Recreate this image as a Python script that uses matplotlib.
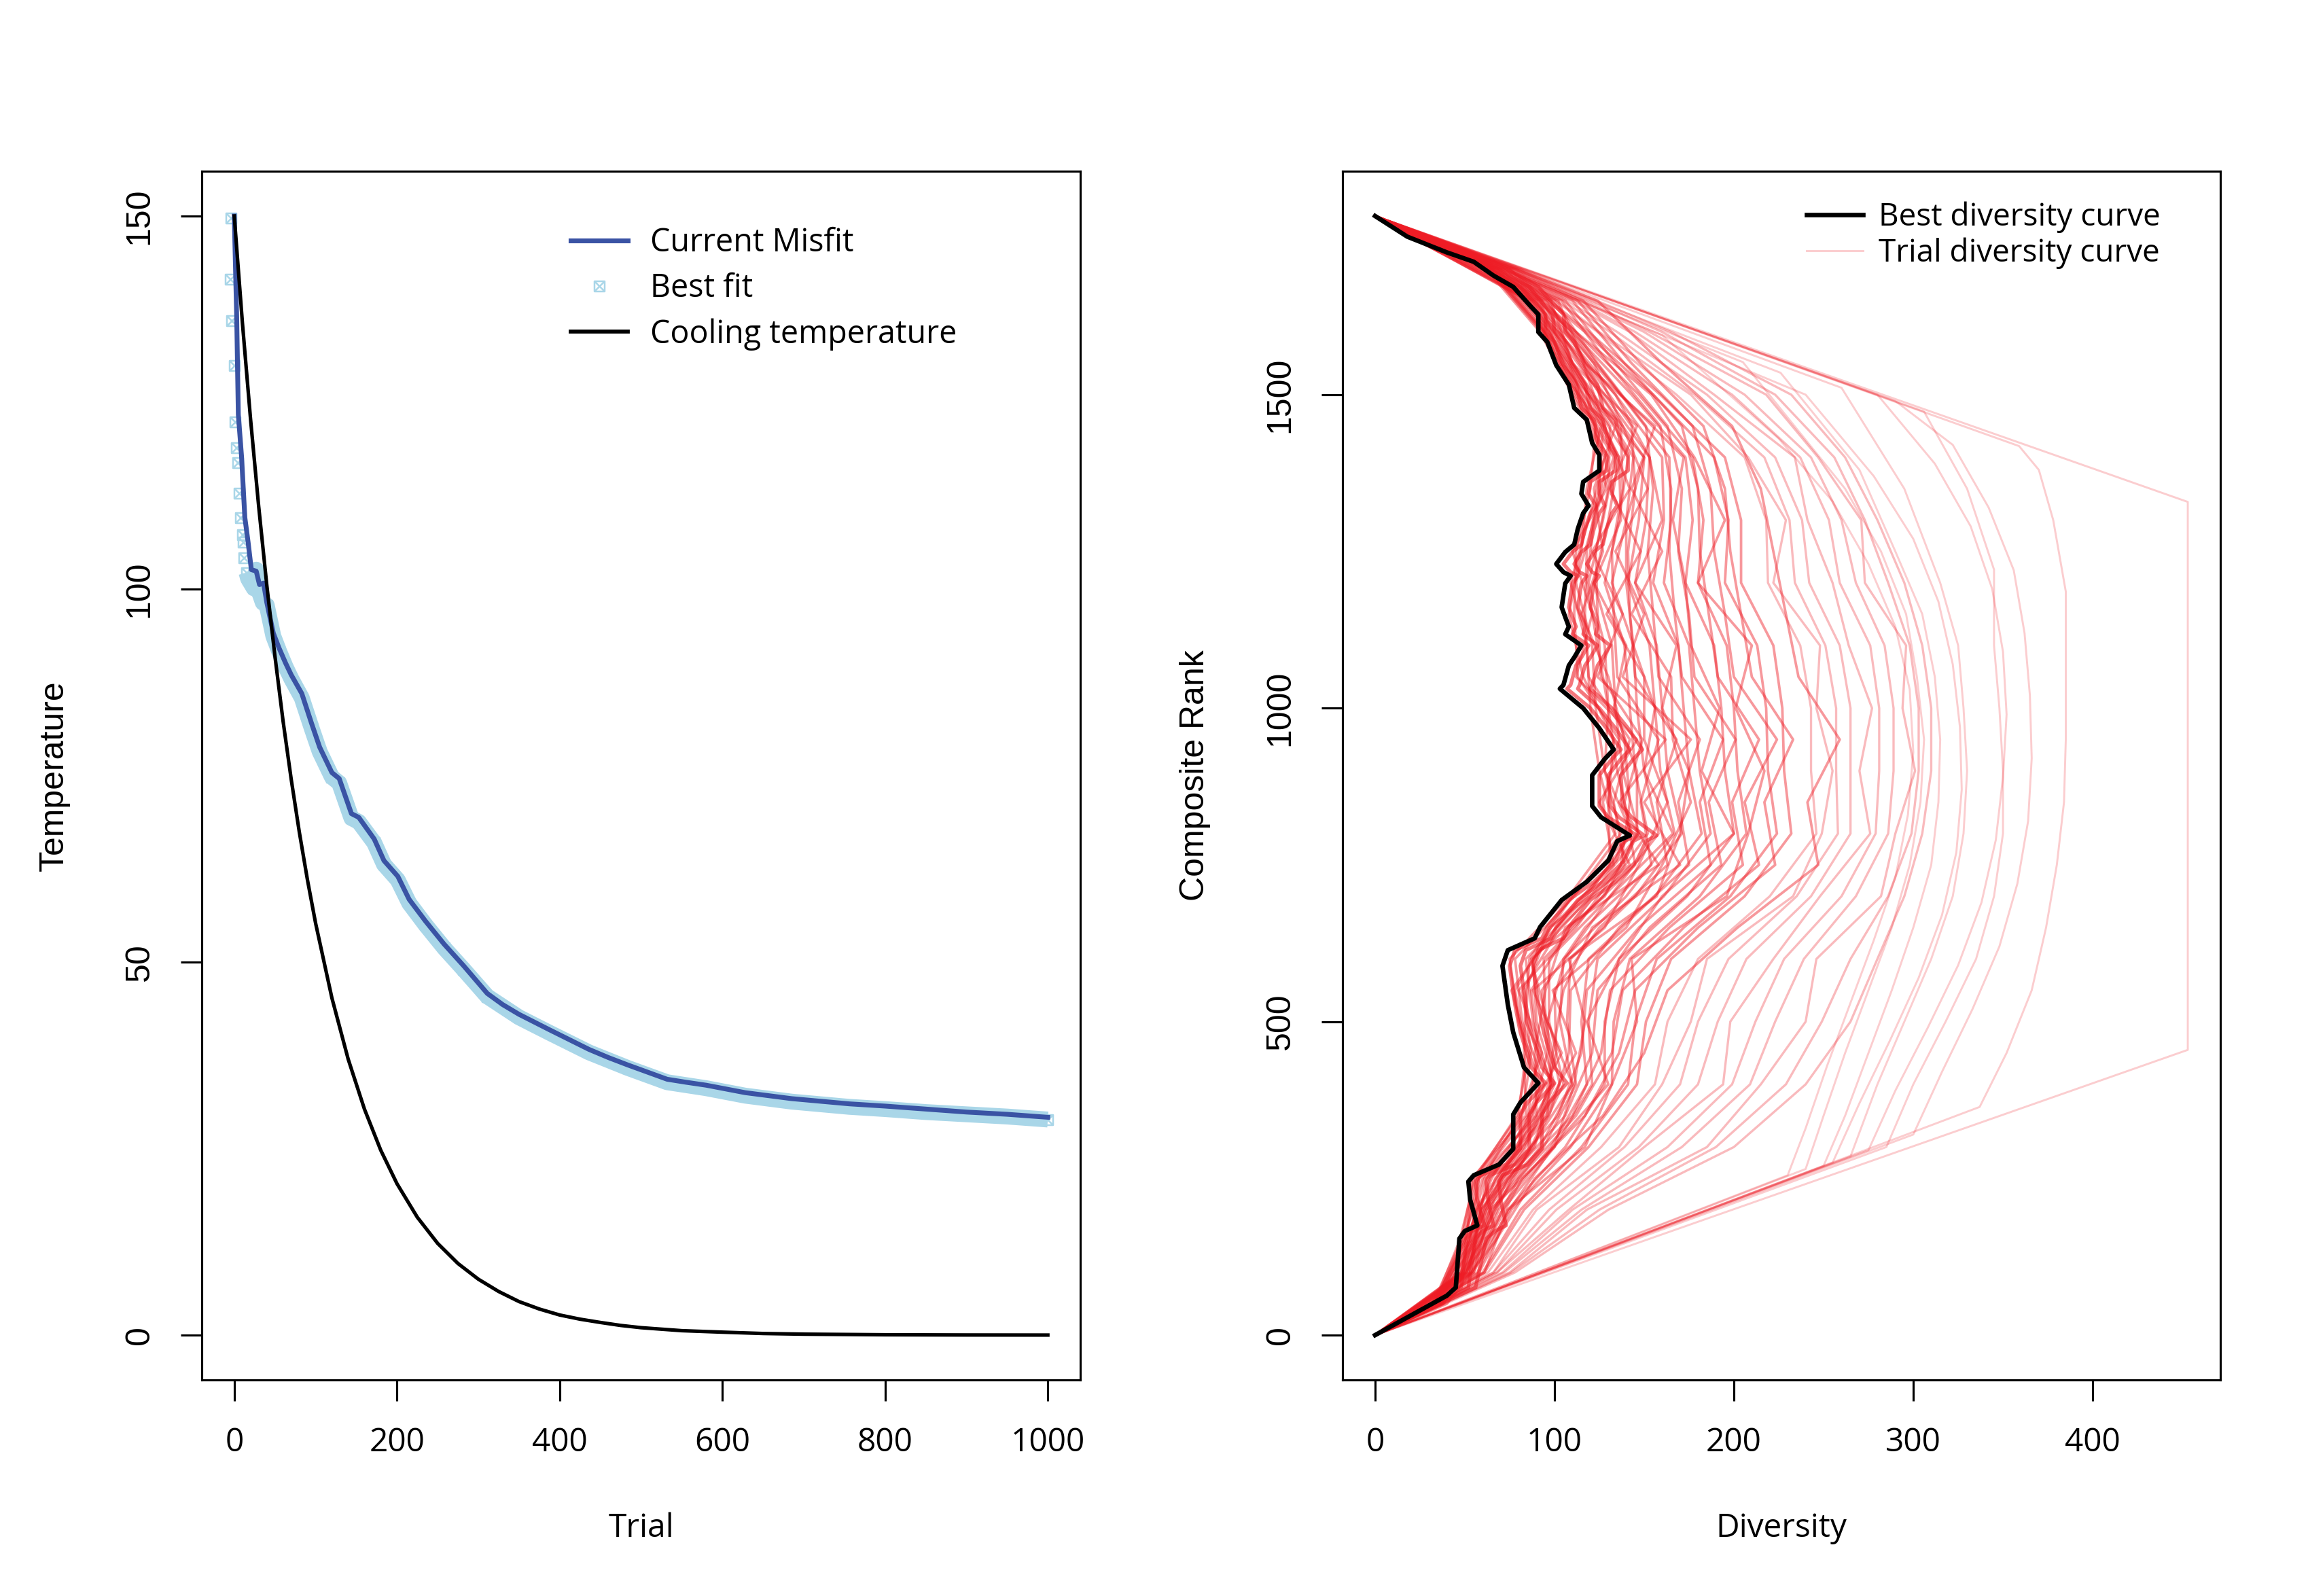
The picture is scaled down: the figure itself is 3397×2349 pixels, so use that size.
import numpy as np
import matplotlib.pyplot as plt
from matplotlib.path import Path
from matplotlib.lines import Line2D

# ---- left panel: annealing run ----
misfit_trial = [0, 3, 5, 9, 13, 17, 21, 27, 31, 36, 40, 48, 55, 63, 70, 83, 95, 105, 120, 129,
                144, 153, 172, 184, 201, 215, 235, 258, 282, 311, 330, 350, 388, 436, 460, 484,
                532, 555, 580, 628, 685, 756, 800, 850, 900, 950, 1000]
misfit_value = [150, 136.4, 123.4, 117.7, 109.6, 106.3, 102.6, 102.4, 100.6, 100.8, 98.2, 94.1,
                92.1, 90.1, 88.5, 86, 82, 78.8, 75.4, 74.6, 69.9, 69.4, 66.5, 63.6, 61.5, 58.4,
                55.5, 52.4, 49.5, 45.8, 44.3, 43, 40.9, 38.3, 37.2, 36.2, 34.3, 33.9, 33.5, 32.5,
                31.7, 31.0, 30.7, 30.3, 29.9, 29.6, 29.2]

bestfit_trial = [-4, -5, -3, 0, 1, 3, 4, 6, 8, 10, 11, 12, 15, 17, 24, 27, 30, 35, 40, 48, 55,
                 63, 70, 83, 95, 105, 120, 129, 144, 153, 172, 184, 201, 215, 235, 258, 282, 311,
                 350, 388, 436, 484, 532, 580, 628, 685, 756, 800, 850, 900, 950, 1000]
bestfit_value = [149.7, 141.5, 136, 130, 122.4, 118.9, 116.9, 112.8, 109.6, 107.3, 106.3, 104.2,
                 102.2, 101.4, 100.1, 102.6, 99.8, 98.2, 97.8, 93.7, 91.7, 89.6, 88.0, 85.4, 81.4,
                 78.2, 74.8, 74.0, 69.3, 68.8, 66.0, 63.1, 61.0, 57.9, 55.0, 51.9, 49.0, 45.4,
                 42.6, 40.5, 37.9, 35.8, 33.9, 33.1, 32.1, 31.3, 30.6, 30.3, 29.9, 29.6, 29.3, 28.9]

cool_trial = [0, 10, 20, 30, 40, 50, 60, 70, 80, 90, 100, 120, 140, 160, 180, 200, 225, 250,
              275, 300, 325, 350, 375, 400, 425, 450, 475, 500, 550, 600, 650, 700, 800, 900, 1000]
cool_temp = [150, 135.7, 122.8, 111.1, 100.5, 91.0, 82.3, 74.5, 67.4, 61.0, 55.2, 45.2, 37.0,
             30.3, 24.8, 20.3, 15.8, 12.3, 9.6, 7.5, 5.85, 4.5, 3.5, 2.7, 2.14, 1.7, 1.3, 1.0,
             0.6, 0.4, 0.22, 0.13, 0.05, 0.02, 0.01]

# ---- right panel: diversity curves ----
best_div = [0, 40, 45, 47, 50, 57, 53, 52, 55, 69, 77, 77, 81, 91, 83, 77, 74, 71, 74, 89, 92,
            104, 118, 130, 135, 142, 126, 121, 121, 128, 133, 125, 116, 103, 105, 108, 111, 115,
            106, 108, 104, 106, 109, 105, 101, 106, 111, 113, 116, 119, 115, 116, 125, 125, 121,
            118, 111, 108, 101, 96, 91, 91, 87, 77, 66, 55, 40, 18, 0]
best_rank = [0, 63, 76, 154, 166, 175, 216, 245, 255, 272, 297, 352, 371, 402, 427, 483, 527,
             589, 614, 633, 651, 694, 723, 757, 788, 797, 826, 844, 893, 919, 934, 968, 1000,
             1031, 1037, 1068, 1081, 1100, 1118, 1130, 1161, 1199, 1211, 1217, 1230, 1249, 1261,
             1286, 1311, 1323, 1342, 1361, 1379, 1404, 1423, 1460, 1479, 1516, 1547, 1584, 1600,
             1628, 1640, 1672, 1690, 1712, 1727, 1752, 1785]

# trial curves running just right of the best one, read at the same ranks
near_div = [
    [0, 42, 48, 51, 54, 61, 57, 56, 59, 73, 81, 81, 85, 95, 87, 81, 78, 75, 78, 93, 96, 108, 122,
     134, 139, 146, 130, 125, 125, 132, 137, 129, 120, 107, 109, 112, 115, 119, 110, 112, 108,
     110, 113, 109, 105, 110, 115, 117, 120, 123, 119, 120, 129, 129, 125, 122, 115, 112, 105,
     100, 95, 95, 91, 81, 70, 58, 43, 20, 0],
    [0, 44, 52, 56, 60, 66, 63, 62, 64, 78, 86, 86, 90, 100, 93, 87, 84, 81, 84, 98, 101, 113,
     127, 139, 144, 150, 136, 131, 130, 137, 142, 134, 125, 113, 114, 117, 120, 124, 116, 117,
     113, 115, 118, 114, 111, 115, 120, 122, 125, 128, 125, 125, 134, 134, 130, 127, 120, 117,
     110, 105, 100, 99, 95, 86, 75, 62, 46, 22, 0],
    [0, 46, 56, 62, 67, 73, 70, 69, 71, 85, 93, 93, 97, 107, 100, 94, 91, 88, 91, 105, 108, 120,
     134, 146, 151, 157, 143, 138, 137, 144, 149, 141, 132, 120, 121, 124, 127, 131, 123, 124,
     120, 122, 125, 121, 118, 122, 127, 129, 132, 135, 132, 132, 141, 141, 137, 134, 127, 124,
     117, 111, 106, 105, 101, 91, 80, 66, 49, 24, 0],
]

rank_levels = [0, 100, 200, 300, 400, 500, 600, 700, 800, 900, 1000, 1100, 1200, 1300, 1400,
               1500, 1600, 1700, 1785]
trial_div = [
    [0, 48, 56, 79, 92, 80, 75, 108, 134, 125, 120, 118, 109, 119, 128, 110, 92, 62, 0],
    [0, 48, 57, 80, 94, 82, 78, 111, 137, 128, 123, 121, 112, 122, 130, 111, 93, 63, 0],
    [0, 49, 60, 80, 99, 84, 86, 110, 143, 128, 130, 124, 118, 122, 133, 112, 94, 63, 0],
    [0, 49, 59, 83, 98, 88, 84, 118, 143, 135, 130, 128, 119, 127, 134, 114, 94, 64, 0],
    [0, 50, 61, 84, 100, 90, 88, 120, 147, 138, 134, 132, 122, 130, 136, 116, 95, 64, 0],
    [0, 52, 59, 89, 98, 96, 87, 128, 146, 146, 133, 140, 122, 137, 136, 119, 95, 65, 0],
    [0, 51, 62, 87, 103, 95, 94, 127, 152, 145, 142, 139, 128, 136, 141, 119, 97, 65, 0],
    [0, 51, 63, 88, 105, 97, 97, 131, 158, 150, 146, 144, 132, 140, 144, 122, 98, 66, 0],
    [0, 50, 67, 87, 110, 96, 106, 131, 166, 150, 156, 144, 140, 140, 150, 121, 100, 66, 0],
    [0, 52, 65, 92, 110, 103, 105, 140, 167, 159, 156, 153, 141, 147, 150, 126, 100, 67, 0],
    [0, 53, 66, 94, 112, 107, 109, 145, 171, 163, 160, 157, 145, 151, 153, 128, 102, 68, 0],
    [0, 55, 64, 100, 111, 117, 108, 157, 170, 175, 160, 168, 145, 160, 153, 134, 102, 68, 0],
    [0, 54, 69, 98, 118, 115, 119, 156, 182, 175, 172, 169, 155, 161, 160, 134, 105, 69, 0],
    [0, 55, 71, 100, 121, 119, 124, 161, 187, 181, 178, 175, 161, 165, 164, 137, 107, 70, 0],
    [0, 54, 75, 99, 130, 118, 136, 160, 200, 182, 192, 176, 173, 166, 172, 137, 110, 70, 0],
    [0, 57, 74, 106, 128, 128, 136, 174, 200, 195, 193, 189, 173, 177, 173, 143, 110, 72, 0],
    [0, 58, 76, 109, 132, 133, 142, 181, 207, 202, 200, 196, 180, 183, 177, 147, 112, 73, 0],
    [0, 61, 74, 117, 132, 146, 143, 196, 208, 217, 201, 210, 180, 195, 178, 154, 112, 75, 0],
    [0, 60, 81, 115, 141, 145, 157, 198, 224, 219, 218, 213, 195, 197, 189, 155, 117, 75, 0],
    [0, 61, 83, 119, 146, 151, 165, 206, 232, 228, 227, 222, 204, 204, 195, 159, 119, 76, 0],
]
wide_div = [
    [0, 63, 88, 126, 156, 163, 180, 220, 246, 243, 243, 237, 219, 218, 206, 168, 124, 77, 0],
    [0, 66, 90, 136, 160, 176, 185, 233, 249, 255, 246, 248, 222, 229, 208, 176, 125, 78, 0],
    [0, 66, 97, 139, 170, 180, 197, 235, 258, 257, 257, 251, 234, 231, 217, 178, 131, 78, 0],
    [0, 68, 101, 147, 180, 191, 207, 243, 265, 265, 265, 259, 242, 238, 223, 185, 135, 79, 0],
    [0, 68, 108, 150, 194, 198, 222, 248, 276, 270, 277, 264, 255, 241, 234, 189, 142, 79, 0],
    [0, 71, 110, 163, 199, 212, 228, 260, 279, 281, 281, 276, 259, 253, 237, 199, 145, 80, 0],
    [0, 72, 115, 171, 209, 223, 239, 268, 286, 289, 289, 284, 268, 260, 243, 206, 150, 80, 0],
    [0, 75, 118, 185, 215, 240, 246, 282, 290, 301, 294, 296, 273, 271, 247, 218, 153, 81, 0],
    [0, 76, 125, 190, 229, 249, 265, 286, 299, 303, 303, 298, 286, 273, 256, 223, 160, 81, 0],
    [0, 78, 130, 200, 240, 265, 280, 295, 305, 310, 310, 305, 295, 280, 262, 232, 165, 82, 0],
]

# second set of trial curves read at the in-between ranks
rank_levels_mid = [0, 50, 150, 250, 350, 450, 550, 650, 750, 850, 950, 1050, 1150, 1250, 1350,
                   1450, 1550, 1650, 1750, 1785]
trial_div_mid = [
    [0, 32, 48, 55, 80, 84, 78, 98, 133, 127, 136, 113, 111, 112, 120, 123, 103, 86, 21, 0],
    [0, 33, 49, 57, 82, 87, 82, 103, 139, 133, 142, 119, 117, 118, 125, 127, 106, 88, 21, 0],
    [0, 33, 50, 58, 85, 91, 87, 109, 145, 139, 149, 126, 124, 123, 130, 131, 109, 90, 22, 0],
    [0, 34, 52, 61, 88, 96, 93, 117, 154, 148, 158, 135, 133, 132, 138, 137, 114, 93, 23, 0],
    [0, 34, 53, 64, 92, 101, 100, 125, 163, 157, 168, 145, 142, 141, 145, 143, 118, 96, 24, 0],
    [0, 35, 55, 67, 97, 108, 109, 136, 175, 169, 181, 158, 155, 152, 155, 151, 124, 100, 25, 0],
    [0, 36, 57, 71, 102, 115, 118, 147, 187, 181, 194, 171, 167, 164, 165, 159, 130, 104, 26, 0],
    [0, 37, 60, 76, 110, 126, 131, 164, 205, 199, 214, 191, 186, 181, 180, 171, 139, 110, 28, 0],
    [0, 38, 63, 82, 117, 136, 145, 180, 223, 217, 233, 210, 204, 198, 195, 183, 148, 116, 30, 0],
    [0, 40, 67, 89, 127, 150, 163, 202, 247, 241, 259, 236, 229, 222, 215, 199, 160, 124, 32, 0],
    [0, 33, 47, 56, 79, 86, 76, 101, 131, 130, 133, 116, 108, 115, 118, 126, 101, 87, 21, 0],
    [0, 32, 51, 54, 84, 83, 84, 97, 142, 125, 146, 112, 121, 110, 129, 122, 108, 85, 22, 0],
    [0, 34, 49, 60, 81, 93, 80, 112, 137, 142, 139, 130, 115, 127, 122, 134, 104, 92, 22, 0],
    [0, 33, 53, 58, 90, 89, 95, 106, 158, 136, 162, 124, 138, 121, 142, 128, 116, 89, 23, 0],
    [0, 35, 50, 65, 86, 104, 88, 128, 147, 163, 150, 150, 129, 148, 131, 146, 110, 98, 24, 0],
    [0, 34, 56, 62, 96, 99, 105, 121, 170, 150, 176, 138, 150, 134, 152, 138, 122, 95, 24, 0],
    [0, 36, 54, 70, 93, 112, 99, 140, 160, 176, 166, 165, 143, 160, 143, 156, 117, 102, 25, 0],
    [0, 37, 59, 74, 106, 121, 124, 153, 193, 186, 201, 178, 175, 169, 171, 163, 134, 106, 27, 0],
    [0, 38, 62, 80, 112, 132, 138, 172, 214, 206, 224, 200, 195, 189, 187, 177, 143, 113, 29, 0],
]

outer_div = [
    [0, 453, 453, 0],
    [0, 337, 352, 366, 374, 380, 384, 385, 385, 385, 378, 370, 359, 0],
    [0, 300, 316, 333, 348, 358, 364, 366, 365, 362, 356, 342, 322, 290, 0],
    [0, 285, 300, 318, 335, 345, 350, 350, 348, 345, 345, 330, 306, 0],
    [0, 275, 290, 308, 325, 338, 346, 350, 352, 350, 344, 332, 312, 280, 0],
    [0, 265, 280, 295, 310, 322, 328, 330, 328, 325, 315, 295, 260, 0],
    [0, 255, 270, 287, 303, 316, 324, 327, 326, 322, 314, 300, 278, 240, 0],
    [0, 250, 262, 275, 288, 300, 310, 314, 315, 312, 305, 290, 270, 226, 0],
    [0, 240, 250, 262, 275, 288, 298, 304, 306, 302, 296, 282, 262, 205, 0],
    [0, 230, 240, 252, 265, 278, 290, 297, 300, 298, 290, 275, 255, 225, 160, 0],
]
outer_rank = [
    [0, 455, 1329, 1785],
    [0, 364, 450, 550, 650, 750, 850, 950, 1050, 1186, 1300, 1380, 1418, 1785],
    [0, 320, 420, 520, 620, 720, 820, 920, 1020, 1120, 1220, 1320, 1420, 1490, 1785],
    [0, 300, 400, 500, 600, 700, 800, 900, 1000, 1100, 1221, 1350, 1473, 1785],
    [0, 295, 390, 490, 590, 690, 790, 890, 990, 1090, 1190, 1290, 1390, 1500, 1785],
    [0, 285, 400, 500, 600, 700, 800, 900, 1000, 1100, 1200, 1350, 1511, 1785],
    [0, 275, 370, 470, 570, 670, 770, 870, 970, 1070, 1170, 1270, 1370, 1500, 1785],
    [0, 270, 350, 450, 550, 650, 750, 850, 950, 1050, 1150, 1250, 1380, 1535, 1785],
    [0, 265, 350, 450, 550, 650, 750, 850, 950, 1050, 1150, 1250, 1350, 1552, 1785],
    [0, 255, 330, 430, 530, 630, 730, 830, 930, 1030, 1130, 1230, 1330, 1430, 1595, 1785],
]

BLUE = '#3A53A4'
LIGHTBLUE = '#A9D6E8'
RED = '#EE1C25'
LEGEND_FONT = 'Open Sans'
AXIS_FONT = 'Liberation Sans'

# pch 7 style marker: square with a cross
box_x = Path([(-1, -1), (1, -1), (1, 1), (-1, 1), (-1, -1), (-1, -1), (1, 1), (-1, 1), (1, -1)],
             [Path.MOVETO, Path.LINETO, Path.LINETO, Path.LINETO, Path.CLOSEPOLY,
              Path.MOVETO, Path.LINETO, Path.MOVETO, Path.LINETO])

fig = plt.figure(figsize=(3397 / 300, 2349 / 300), dpi=300)
ax1 = fig.add_axes([0.0874, 0.1354, 0.3807, 0.7573])
ax2 = fig.add_axes([0.5817, 0.1354, 0.3803, 0.7573])


def r_style(ax, xticks, yticks):
    for s in ax.spines.values():
        s.set_linewidth(0.75)
    ax.set_xticks(xticks)
    ax.set_yticks(yticks)
    ax.tick_params(direction='out', length=7.4, width=0.75, color='black')
    ax.tick_params(axis='x', pad=9)
    ax.tick_params(axis='y', pad=9, labelrotation=90)
    for lab in ax.get_xticklabels():
        lab.set_fontfamily(LEGEND_FONT)
        lab.set_fontsize(11.5)
    for lab in ax.get_yticklabels():
        lab.set_fontfamily(AXIS_FONT)
        lab.set_fontsize(12)
        lab.set_verticalalignment('center')


# left panel
t_bf = np.array(bestfit_trial)
v_bf = np.array(bestfit_value)
band = t_bf >= 15
ax1.plot(t_bf[band], v_bf[band], color=LIGHTBLUE, lw=5.6, solid_capstyle='butt', zorder=1)
ax1.plot(t_bf, v_bf, ls='none', marker=box_x, ms=3.6, mew=0.6, mfc='none',
         mec=LIGHTBLUE, zorder=2)
ax1.plot(misfit_trial, misfit_value, color=BLUE, lw=1.7, zorder=3)
ax1.plot(cool_trial, cool_temp, color='black', lw=1.25, zorder=4)
ax1.set_xlim(-40, 1040)
ax1.set_ylim(-6, 156)
r_style(ax1, [0, 200, 400, 600, 800, 1000], [0, 50, 100, 150])
ax1.text(0.5, -0.1225, 'Trial', transform=ax1.transAxes, ha='center', va='center',
         fontsize=11.5, family=LEGEND_FONT)
ax1.text(-0.1676, 0.5, 'Temperature', transform=ax1.transAxes, ha='center', va='center',
         rotation=90, fontsize=12, family=AXIS_FONT)

h1 = [Line2D([], [], color=BLUE, lw=1.7),
      Line2D([], [], ls='none', marker=box_x, ms=3.6, mew=0.6, mfc='none', mec=LIGHTBLUE),
      Line2D([], [], color='black', lw=1.4)]
ax1.legend(h1, ['Current Misfit', 'Best fit', 'Cooling temperature'],
           loc='upper left', bbox_to_anchor=(0.42, 0.954), frameon=False,
           borderpad=0, borderaxespad=0, handlelength=1.8, handletextpad=0.7,
           labelspacing=0.42, prop={'family': LEGEND_FONT, 'size': 11.2})

# right panel
for xs in trial_div:
    ax2.plot(xs, rank_levels, color=RED, alpha=0.45, lw=0.9, zorder=1)
for xs in wide_div:
    ax2.plot(xs, rank_levels, color=RED, alpha=0.3, lw=0.8, zorder=1)
for xs in trial_div_mid:
    ax2.plot(xs, rank_levels_mid, color=RED, alpha=0.45, lw=0.9, zorder=1)
for xs in near_div:
    ax2.plot(xs, best_rank, color=RED, alpha=0.6, lw=1.3, zorder=2)
for xs, ys in zip(outer_div, outer_rank):
    ax2.plot(xs, ys, color=RED, alpha=0.22, lw=0.7, zorder=1)
ax2.plot(best_div, best_rank, color='black', lw=1.6, zorder=3)
ax2.set_xlim(-18.12, 471.12)
ax2.set_ylim(-71.4, 1856.4)
r_style(ax2, [0, 100, 200, 300, 400], [0, 500, 1000, 1500])
ax2.text(0.5, -0.1225, 'Diversity', transform=ax2.transAxes, ha='center', va='center',
         fontsize=11.5, family=LEGEND_FONT)
ax2.text(-0.168, 0.5, 'Composite Rank', transform=ax2.transAxes, ha='center', va='center',
         rotation=90, fontsize=12, family=AXIS_FONT)

h2 = [Line2D([], [], color='black', lw=1.6),
      Line2D([], [], color=RED, alpha=0.22, lw=0.7)]
ax2.legend(h2, ['Best diversity curve', 'Trial diversity curve'],
           loc='upper left', bbox_to_anchor=(0.529, 0.975), frameon=False,
           borderpad=0, borderaxespad=0, handlelength=1.8, handletextpad=0.5,
           labelspacing=0.15, prop={'family': LEGEND_FONT, 'size': 11})

fig.savefig('out.png', dpi=300)
